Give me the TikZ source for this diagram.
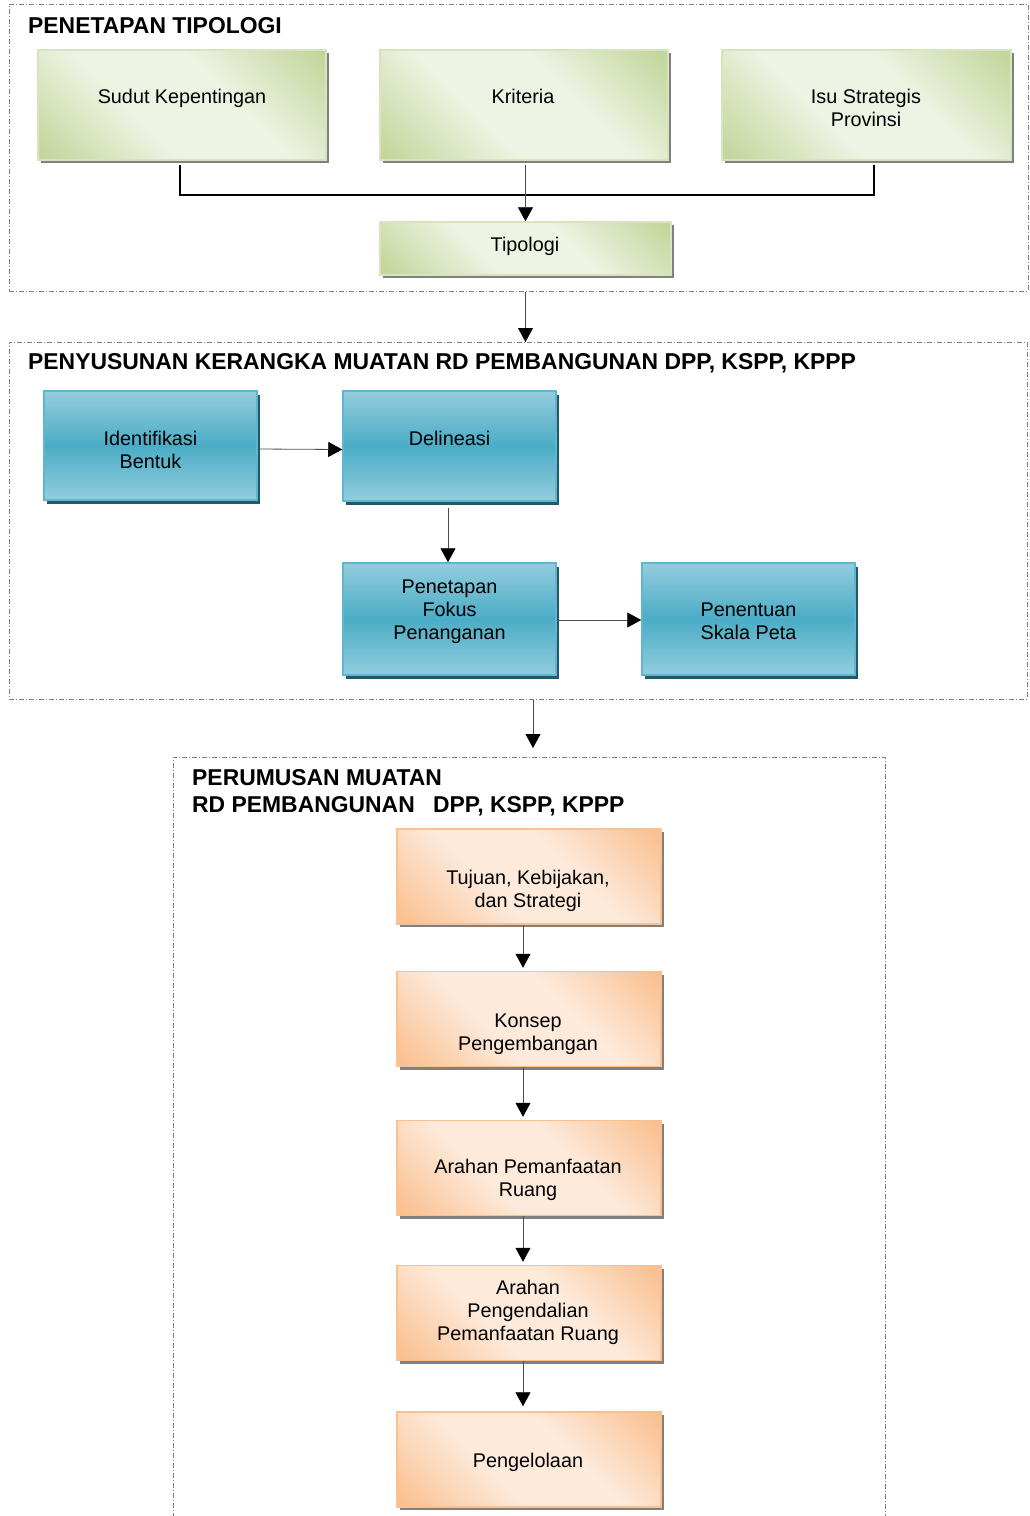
\documentclass[tikz,border=0pt]{standalone}
\usepackage{fontspec}
\setmainfont{Liberation Sans}
\usetikzlibrary{arrows.meta,shadows}
\definecolor{gA}{HTML}{C3D69B}
\definecolor{gB}{HTML}{EEF3E3}
\definecolor{gBorder}{HTML}{D7E4BD}
\definecolor{bA}{HTML}{93CDDD}
\definecolor{bB}{HTML}{4BACC6}
\definecolor{bBorder}{HTML}{5FB6CE}
\definecolor{bShadow}{HTML}{215968}
\definecolor{oA}{HTML}{FAC090}
\definecolor{oB}{HTML}{FDEADB}
\definecolor{oBorder}{HTML}{FAC090}
\pgfdeclarehorizontalshading{gshade}{100bp}{color(0bp)=(gA); color(16bp)=(gA); color(40bp)=(gB); color(60bp)=(gB); color(84bp)=(gA); color(100bp)=(gA)}
\pgfdeclarehorizontalshading{oshade}{100bp}{color(0bp)=(oA); color(16bp)=(oA); color(40bp)=(oB); color(60bp)=(oB); color(84bp)=(oA); color(100bp)=(oA)}
\pgfdeclareverticalshading{bshade}{100bp}{color(0bp)=(bA); color(25bp)=(bA); color(50bp)=(bB); color(75bp)=(bA); color(100bp)=(bA)}
\tikzset{
  fr/.style={draw=black!50, line width=0.6pt, dash pattern=on 5pt off 2pt on 1pt off 2pt, inner sep=0pt, anchor=north west},
  boxbase/.style={line width=1.5pt, inner sep=0pt},
  gbox/.style={boxbase, draw=gBorder, shading=gshade, shading angle=45,
    drop shadow={shadow xshift=3pt, shadow yshift=-3pt, fill=black!50, opacity=1}},
  obox/.style={boxbase, draw=oBorder, shading=oshade, shading angle=45,
    minimum width=264pt, minimum height=95pt,
    drop shadow={shadow xshift=3pt, shadow yshift=-3pt, fill=black!50, opacity=1}},
  bbox/.style={boxbase, draw=bBorder, shading=bshade, minimum width=213pt,
    drop shadow={shadow xshift=3pt, shadow yshift=-4pt, fill=bShadow, opacity=1}},
  txt/.style={anchor=base, align=center, font=\fontsize{19.8}{23}\selectfont, inner sep=0pt},
  ttl/.style={anchor=base west, align=left, inner sep=0pt, font=\fontsize{22.9}{27}\selectfont\bfseries},
  arr/.style={draw=black!70, line width=0.8pt, -{Triangle[length=14pt,width=15pt,color=black]}},
  bar/.style={draw=black, line width=2pt},
}
\begin{document}
\begin{tikzpicture}[x=1pt,y=-1pt]
\useasboundingbox (0,0) rectangle (1029,1516);
\clip (0,0) rectangle (1029,1516);
\fill[white] (0,0) rectangle (1029,1516);

% frames
\node[fr, minimum width=1019pt, minimum height=287pt] (f1) at (9,4) {};
\node[fr, minimum width=1018pt, minimum height=357pt] (f2) at (9,342) {};
\node[fr, minimum width=712pt, minimum height=820pt] (f3) at (173,757) {};

% titles
\node[ttl] (t1) at (28,33) {PENETAPAN TIPOLOGI};
\node[ttl] (t2) at (28,369) {PENYUSUNAN KERANGKA MUATAN RD PEMBANGUNAN DPP, KSPP, KPPP};
\node[ttl] (t3) at (192,812) {PERUMUSAN MUATAN\\RD PEMBANGUNAN\hspace{12pt} DPP, KSPP, KPPP};

% section 1
\node[gbox, minimum width=288pt, minimum height=110pt] (sudut) at (182,105) {};
\node[gbox, minimum width=288pt, minimum height=110pt] (krit) at (524,105) {};
\node[gbox, minimum width=289pt, minimum height=110pt] (isu) at (866.5,105) {};
\node[gbox, minimum width=291pt, minimum height=53pt] (tipo) at (525.5,248.5) {};
\node[txt] (sudut-t) at (182,103) {Sudut Kepentingan};
\node[txt] (krit-t) at (523,103) {Kriteria};
\node[txt] (isu-t) at (866,126) {Isu Strategis\\Provinsi};
\node[txt] (tipo-t) at (525,251) {Tipologi};

\coordinate (jn) at (526,195);
\draw[bar] ([xshift=-2pt,yshift=-4pt]sudut.south) |- (jn) -| ([xshift=7.5pt,yshift=-4pt]isu.south);
\draw[arr] ([yshift=-4pt]krit.south -| tipo.north) -- (tipo.north);
\draw[arr] (f1.south -| tipo.north) -- (f2.north -| tipo.north);

% section 2
\node[bbox, minimum height=109pt] (ident) at (150.5,445.5) {};
\node[bbox, minimum height=110pt] (delin) at (449.5,446) {};
\node[bbox, minimum height=112pt] (fokus) at (449.5,619) {};
\node[bbox, minimum height=112pt] (skala) at (748.5,619) {};
\node[txt] (ident-t) at (150.5,468) {Identifikasi\\Bentuk};
\node[txt] (delin-t) at (449.5,445) {Delineasi};
\node[txt] (fokus-t) at (449.5,639) {Penetapan\\Fokus\\Penanganan};
\node[txt] (skala-t) at (748.5,639) {Penentuan\\Skala Peta};

\draw[arr] ([yshift=-3.5pt]ident.east) -- ([yshift=-3.5pt]delin.west);
\draw[arr] ([xshift=-1.5pt,yshift=-6pt]delin.south) -- ([xshift=-1.5pt]fokus.north);
\draw[arr] ([yshift=-1pt]fokus.east) -- ([yshift=-1pt]skala.west);
\coordinate (a3) at (533,748);
\draw[arr] (f2.south -| a3) -- (a3);

% section 3
\node[obox] (tujuan) at (529,876.5) {};
\node[obox] (konsep) at (529,1019) {};
\node[obox] (apr) at (529,1168) {};
\node[obox] (apgr) at (529,1313) {};
\node[obox] (kelola) at (529,1459.5) {};
\node[txt] (tujuan-t) at (528,907) {Tujuan, Kebijakan,\\dan Strategi};
\node[txt] (konsep-t) at (528,1050) {Konsep\\Pengembangan};
\node[txt] (apr-t) at (528,1196) {Arahan Pemanfaatan\\Ruang};
\node[txt] (apgr-t) at (528,1340) {Arahan\\Pengendalian\\Pemanfaatan Ruang};
\node[txt] (kelola-t) at (528,1467) {Pengelolaan};

\draw[arr, shorten >=3pt] ([xshift=-6pt]tujuan.south) -- ([xshift=-6pt]konsep.north);
\draw[arr, shorten >=3pt] ([xshift=-6pt]konsep.south) -- ([xshift=-6pt]apr.north);
\draw[arr, shorten >=3pt] ([xshift=-6pt]apr.south) -- ([xshift=-6pt]apgr.north);
\draw[arr, shorten >=5pt] ([xshift=-6pt]apgr.south) -- ([xshift=-6pt]kelola.north);
\end{tikzpicture}
\end{document}
